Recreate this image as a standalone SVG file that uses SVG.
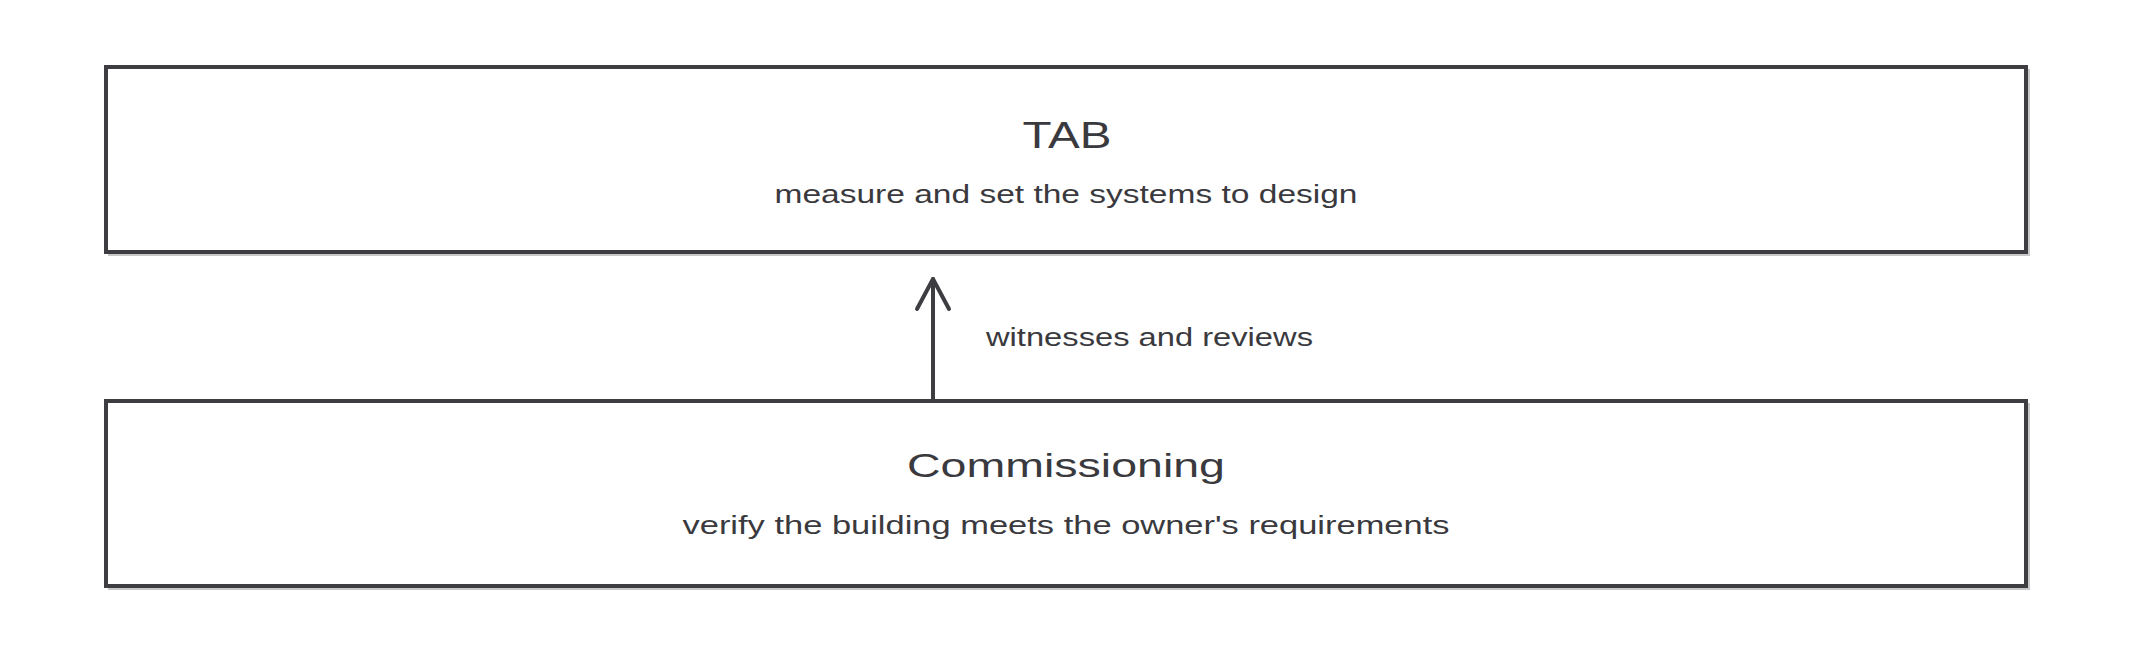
<svg xmlns="http://www.w3.org/2000/svg" width="2133" height="667" viewBox="0 0 2133 667">
  <defs>
    <style>
      .box { fill: #ffffff; stroke: #3d3d42; stroke-width: 4; }
      .shadow { fill: none; stroke: #c8c8c8; stroke-width: 2; }
      .title { font-family: "Liberation Sans", Arial, sans-serif; fill: #3a3a3e; text-anchor: middle; }
      .sub { font-family: "Liberation Sans", Arial, sans-serif; fill: #3a3a3e; text-anchor: middle; font-size: 26px; }
      .edge { stroke: #3d3d42; stroke-width: 4; fill: none; stroke-linecap: round; stroke-linejoin: round; }
      .elabel { font-family: "Liberation Sans", Arial, sans-serif; fill: #3a3a3e; font-size: 26px; }
    </style>
  </defs>
  <rect width="2133" height="667" fill="#ffffff"/>

  <g id="node-tab">
    <rect class="shadow" x="109" y="70" width="1920" height="185"/>
    <rect class="box" x="106" y="67" width="1920" height="185"/>
    <text class="title" x="1067" y="148" font-size="36" textLength="89" lengthAdjust="spacingAndGlyphs">TAB</text>
    <text class="sub" x="1066" y="203" textLength="583" lengthAdjust="spacingAndGlyphs">measure and set the systems to design</text>
  </g>

  <g id="node-commissioning">
    <rect class="shadow" x="109" y="404" width="1920" height="185"/>
    <rect class="box" x="106" y="401" width="1920" height="185"/>
    <text class="title" x="1066" y="477" font-size="33" textLength="318" lengthAdjust="spacingAndGlyphs">Commissioning</text>
    <text class="sub" x="1066" y="534" textLength="767" lengthAdjust="spacingAndGlyphs">verify the building meets the owner's requirements</text>
  </g>

  <g id="connectors">
    <line class="edge" x1="933" y1="399" x2="933" y2="279"/>
    <polyline class="edge" points="917,309 933,279 949,309"/>
    <text class="elabel" x="986" y="346" textLength="327" lengthAdjust="spacingAndGlyphs">witnesses and reviews</text>
  </g>
</svg>
